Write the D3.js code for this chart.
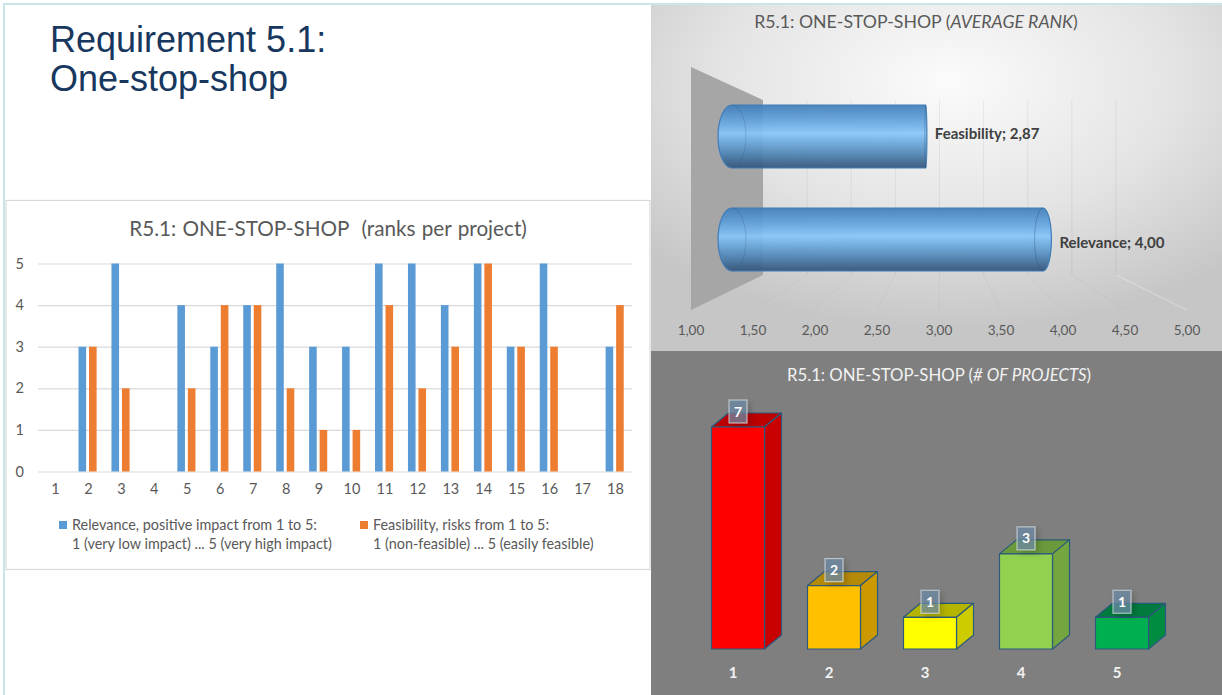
<!DOCTYPE html>
<html>
<head>
<meta charset="utf-8">
<script src="https://cdnjs.cloudflare.com/ajax/libs/d3/7.8.5/d3.min.js"></script>
<style>
  html, body { margin: 0; padding: 0; background: #fff; overflow: hidden; }
  svg { display: block; }
  text { font-family: Lato, "Open Sans", sans-serif; }
  .domain { display: none; }
</style>
</head>
<body>
<svg id="chart" width="1222" height="695"></svg>
<script>
const pageTitle = ["Requirement 5.1:", "One-stop-shop"]

// ranks per project
const projects = d3.range(1, 19)
const relevance = [null, 3, 5, null, 4, 3, 4, 5, 3, 3, 5, 5, 4, 5, 3, 5, null, 3]
const feasibility = [null, 3, 2, null, 2, 4, 4, 2, 1, 1, 4, 2, 3, 5, 3, 3, null, 4]
const rankTicks = [0, 1, 2, 3, 4, 5]

// average rank
const avgNames = ["Feasibility", "Relevance"]
const avgValues = [2.87, 4.00]
const avgTicks = [1, 1.5, 2, 2.5, 3, 3.5, 4, 4.5, 5]

// number of projects per rank
const rankNames = ["1", "2", "3", "4", "5"]
const rankCounts = [7, 2, 1, 3, 1]

const blue = "#5b9bd5", orange = "#ed7d31", grey = "#595959"
const frontCols = ["#ff0000", "#ffc000", "#ffff00", "#92d050", "#00b050"]
const sideCols = ["#c80000", "#cc9900", "#cccc00", "#74a63f", "#008c40"]
const topCols = ["#bd0000", "#b58a08", "#b5b500", "#6b9a3c", "#007a3e"]

const svg = d3.select("#chart")
const defs = svg.append("defs")
const comma = d3.formatLocale({ decimal: ",", thousands: ".", grouping: [3], currency: ["", ""] }).format(".2f")

// slide frame, only the top and left edges show
svg.append("path").attr("d", "M4,695V4H1222").attr("fill", "none")
  .attr("stroke", "#c9e5e7").attr("stroke-width", 2)

const head = svg.append("text").attr("fill", "#17375e")
  .style("font-family", "'Liberation Sans', Arial, sans-serif").style("font-size", "36px")
head.selectAll("tspan").data(pageTitle).join("tspan")
  .attr("x", 50).attr("y", (d, i) => 52 + i * 39).text(d => d)

drawRanks()
drawAverage()
drawCounts()

function drawRanks() {
  const g = svg.append("g")
  g.append("rect").attr("x", 6).attr("y", 200.5).attr("width", 644).attr("height", 369)
    .attr("fill", "#fff").attr("stroke", "#d9d9d9").attr("stroke-width", 1.2)

  g.append("text").attr("x", 328).attr("y", 236).attr("text-anchor", "middle")
    .attr("fill", grey).style("font-size", "20.7px").style("word-spacing", "1px")
    .text("R5.1: ONE-STOP-SHOP  (ranks per project)").attr("xml:space", "preserve")

  const x = d3.scaleBand().domain(projects).range([39, 632])
  const y = d3.scaleLinear().domain([0, 5]).range([471.5, 263.5])

  const ya = g.append("g").attr("transform", "translate(38,0)")
    .call(d3.axisLeft(y).tickValues(rankTicks).tickFormat(d3.format("d")).tickSize(-594).tickPadding(14))
  ya.selectAll("line").attr("stroke", "#d9d9d9").attr("stroke-width", 1.2)
  ya.selectAll("text").attr("fill", grey).style("font-size", "14.5px")

  const xa = g.append("g").attr("transform", "translate(0,471.5)")
    .call(d3.axisBottom(x).tickSize(0).tickPadding(12))
  xa.selectAll("text").attr("fill", grey).style("font-size", "14.5px")

  const series = [[relevance, blue, -9.9], [feasibility, orange, 0.6]]
  series.forEach(([vals, col, off]) => {
    g.append("g").selectAll("rect").data(projects.filter((p, i) => vals[i] != null)).join("rect")
      .attr("x", p => x(p) + x.bandwidth() / 2 + off)
      .attr("y", p => y(vals[p - 1]))
      .attr("width", 7.6)
      .attr("height", p => y(0) - y(vals[p - 1]))
      .attr("fill", col)
  })

  const legend = [
    [59, blue, "Relevance, positive impact from 1 to 5:", "1 (very low impact) ... 5 (very high impact)"],
    [360, orange, "Feasibility, risks from 1 to 5:", "1 (non-feasible) ... 5 (easily feasible)"]
  ]
  legend.forEach(([lx, col, a, b]) => {
    g.append("rect").attr("x", lx).attr("y", 521).attr("width", 8).attr("height", 8).attr("fill", col)
    g.append("text").attr("x", lx + 13).attr("y", 530).attr("fill", grey).style("font-size", "14.4px").text(a)
    g.append("text").attr("x", lx + 13).attr("y", 549).attr("fill", grey).style("font-size", "14.4px").text(b)
  })
}

function drawAverage() {
  const bg = defs.append("radialGradient").attr("id", "avgBg")
    .attr("cx", "52%").attr("cy", "22%").attr("r", "72%")
  bg.append("stop").attr("offset", "0%").attr("stop-color", "#fbfbfb")
  bg.append("stop").attr("offset", "55%").attr("stop-color", "#e4e4e4")
  bg.append("stop").attr("offset", "100%").attr("stop-color", "#c6c6c6")

  const cyl = defs.append("linearGradient").attr("id", "cyl").attr("x1", 0).attr("x2", 0).attr("y1", 0).attr("y2", 1)
  const stops = [[0, "#3f7db8"], [0.2, "#5a9ad6"], [0.45, "#86c6fb"], [0.6, "#6aa8dc"], [0.8, "#4a7fae"], [0.97, "#35587e"]]
  stops.forEach(s => cyl.append("stop").attr("offset", s[0]).attr("stop-color", s[1]))

  const g = svg.append("g")
  g.append("rect").attr("x", 651).attr("y", 5).attr("width", 571).attr("height", 346).attr("fill", "url(#avgBg)")

  const title = g.append("text").attr("x", 916).attr("y", 28).attr("text-anchor", "middle")
    .attr("fill", "#595959").style("font-size", "17.7px")
  title.append("tspan").text("R5.1: ONE-STOP-SHOP (")
  title.append("tspan").style("font-style", "italic").text("AVERAGE RANK")
  title.append("tspan").text(")")

  // three depths of the same axis: back wall, cylinder, front edge
  const back = d3.scaleLinear().domain([1, 5]).range([763, 1116])
  const mid = d3.scaleLinear().domain([1, 4]).range([732, 1043])
  const front = d3.scaleLinear().domain([1, 5]).range([691, 1187])
  const yb = d3.scaleBand().domain(avgNames).range([85, 291]).paddingInner(0.388).paddingOuter(0.194)

  g.append("polygon").attr("fill", "#a6a6a6")
    .attr("points", [[front(1), 67], [back(1), 100], [back(1), 275], [front(1), 310]].join(" "))

  g.append("g").selectAll("line").data(avgTicks.slice(1)).join("line")
    .attr("x1", back).attr("x2", back).attr("y1", 100).attr("y2", 275)
    .attr("stroke", "#000").attr("stroke-opacity", 0.06)
  g.append("g").selectAll("line").data(avgTicks.slice(1)).join("line")
    .attr("x1", back).attr("x2", front).attr("y1", 275).attr("y2", 310)
    .attr("stroke", d => d === 5 ? "#fff" : "#000").attr("stroke-opacity", d => d === 5 ? 0.35 : 0.03)

  g.append("g").selectAll("text").data(avgTicks).join("text")
    .attr("x", front).attr("y", 335).attr("text-anchor", "middle")
    .attr("fill", "#595959").style("font-size", "13.5px").text(comma)

  const capRx = xx => Math.abs(xx - 926) * 0.072
  const labelDy = [-0.5, 6]
  avgNames.forEach((name, i) => {
    const x0 = mid(1), x1 = mid(avgValues[i])
    const top = yb(name), bot = top + yb.bandwidth(), ry = yb.bandwidth() / 2
    const r0 = capRx(x0), r1 = Math.max(capRx(x1), 1)
    const bar = g.append("g")
    bar.append("path")
      .attr("d", `M${x0},${top}L${x1},${top}A${r1},${ry} 0 0 1 ${x1},${bot}L${x0},${bot}A${r0},${ry} 0 0 1 ${x0},${top}Z`)
      .attr("fill", "url(#cyl)").attr("fill-opacity", 0.92).attr("stroke", "#3f7db8").attr("stroke-width", 1.2)
    // see-through inner rims of the cylinder ends
    bar.append("path")
      .attr("d", `M${x0},${top}A${r0},${ry} 0 0 1 ${x0},${bot}`)
      .attr("fill", "none").attr("stroke", "#2b5580").attr("stroke-opacity", 0.25)
    bar.append("path")
      .attr("d", `M${x1},${top}A${r1},${ry} 0 0 0 ${x1},${bot}`)
      .attr("fill", "none").attr("stroke", "#2b5580").attr("stroke-opacity", 0.4)
    g.append("text").attr("x", x1 + r1 + 8).attr("y", (top + bot) / 2 + 2.5 + labelDy[i])
      .attr("fill", "#404040").style("font-size", "15px").style("font-weight", 700)
      .text(`${name}; ${comma(avgValues[i])}`)
  })
}

function drawCounts() {
  const shadow = defs.append("filter").attr("id", "boxShadow")
    .attr("x", "-50%").attr("y", "-50%").attr("width", "220%").attr("height", "220%")
  shadow.append("feDropShadow").attr("dx", 3).attr("dy", 3).attr("stdDeviation", 3)
    .attr("flood-color", "#000").attr("flood-opacity", 0.25)

  const g = svg.append("g")
  g.append("rect").attr("x", 651).attr("y", 351).attr("width", 571).attr("height", 344).attr("fill", "#7f7f7f")

  const title = g.append("text").attr("x", 939).attr("y", 381).attr("text-anchor", "middle")
    .attr("fill", "#f2f2f2").style("font-size", "16.8px")
  title.append("tspan").text("R5.1: ONE-STOP-SHOP (")
  title.append("tspan").style("font-style", "italic").text("# OF PROJECTS")
  title.append("tspan").text(")")

  const x = d3.scaleBand().domain(rankNames).range([685, 1165])
  const y = d3.scaleLinear().domain([0, 7]).range([649, 427])
  const barW = 53, dx = 17, dy = 14, shift = 5

  const xa = g.append("g").attr("transform", "translate(0,649)")
    .call(d3.axisBottom(x).tickSize(0).tickPadding(18))
  xa.selectAll("text").attr("fill", "#f2f2f2").style("font-size", "15px").style("font-weight", 700)

  const bars = g.append("g").selectAll("g").data(rankNames).join("g")
    .attr("stroke", "#2a5a7c").attr("stroke-width", 1.2).attr("stroke-linejoin", "round")

  const left = d => x(d) + x.bandwidth() / 2 + shift - barW / 2
  const val = (d, i) => y(rankCounts[i])

  bars.append("polygon").attr("fill", (d, i) => topCols[i])
    .attr("points", (d, i) => {
      const l = left(d), t = val(d, i)
      return [[l, t], [l + dx, t - dy], [l + barW + dx, t - dy], [l + barW, t]].join(" ")
    })
  bars.append("polygon").attr("fill", (d, i) => sideCols[i])
    .attr("points", (d, i) => {
      const l = left(d) + barW, t = val(d, i)
      return [[l, t], [l + dx, t - dy], [l + dx, y(0) - dy], [l, y(0)]].join(" ")
    })
  bars.append("rect").attr("fill", (d, i) => frontCols[i])
    .attr("x", left).attr("y", val).attr("width", barW)
    .attr("height", (d, i) => y(0) - val(d, i))

  const boxes = g.append("g").selectAll("g").data(rankNames).join("g")
  boxes.append("rect")
    .attr("x", d => left(d) + barW / 2 - 9)
    .attr("y", (d, i) => val(d, i) - 27)
    .attr("width", 18).attr("height", 23)
    .attr("fill", "#6d8ba6").attr("fill-opacity", 0.72)
    .attr("stroke", "#dfe6ea").attr("stroke-opacity", 0.65).attr("stroke-width", 1.2)
    .attr("filter", "url(#boxShadow)")
  boxes.append("text")
    .attr("x", d => left(d) + barW / 2)
    .attr("y", (d, i) => val(d, i) - 10.5)
    .attr("text-anchor", "middle").attr("fill", "#fff")
    .style("font-size", "14px").style("font-weight", 700)
    .text((d, i) => rankCounts[i])
}
</script>
</body>
</html>
